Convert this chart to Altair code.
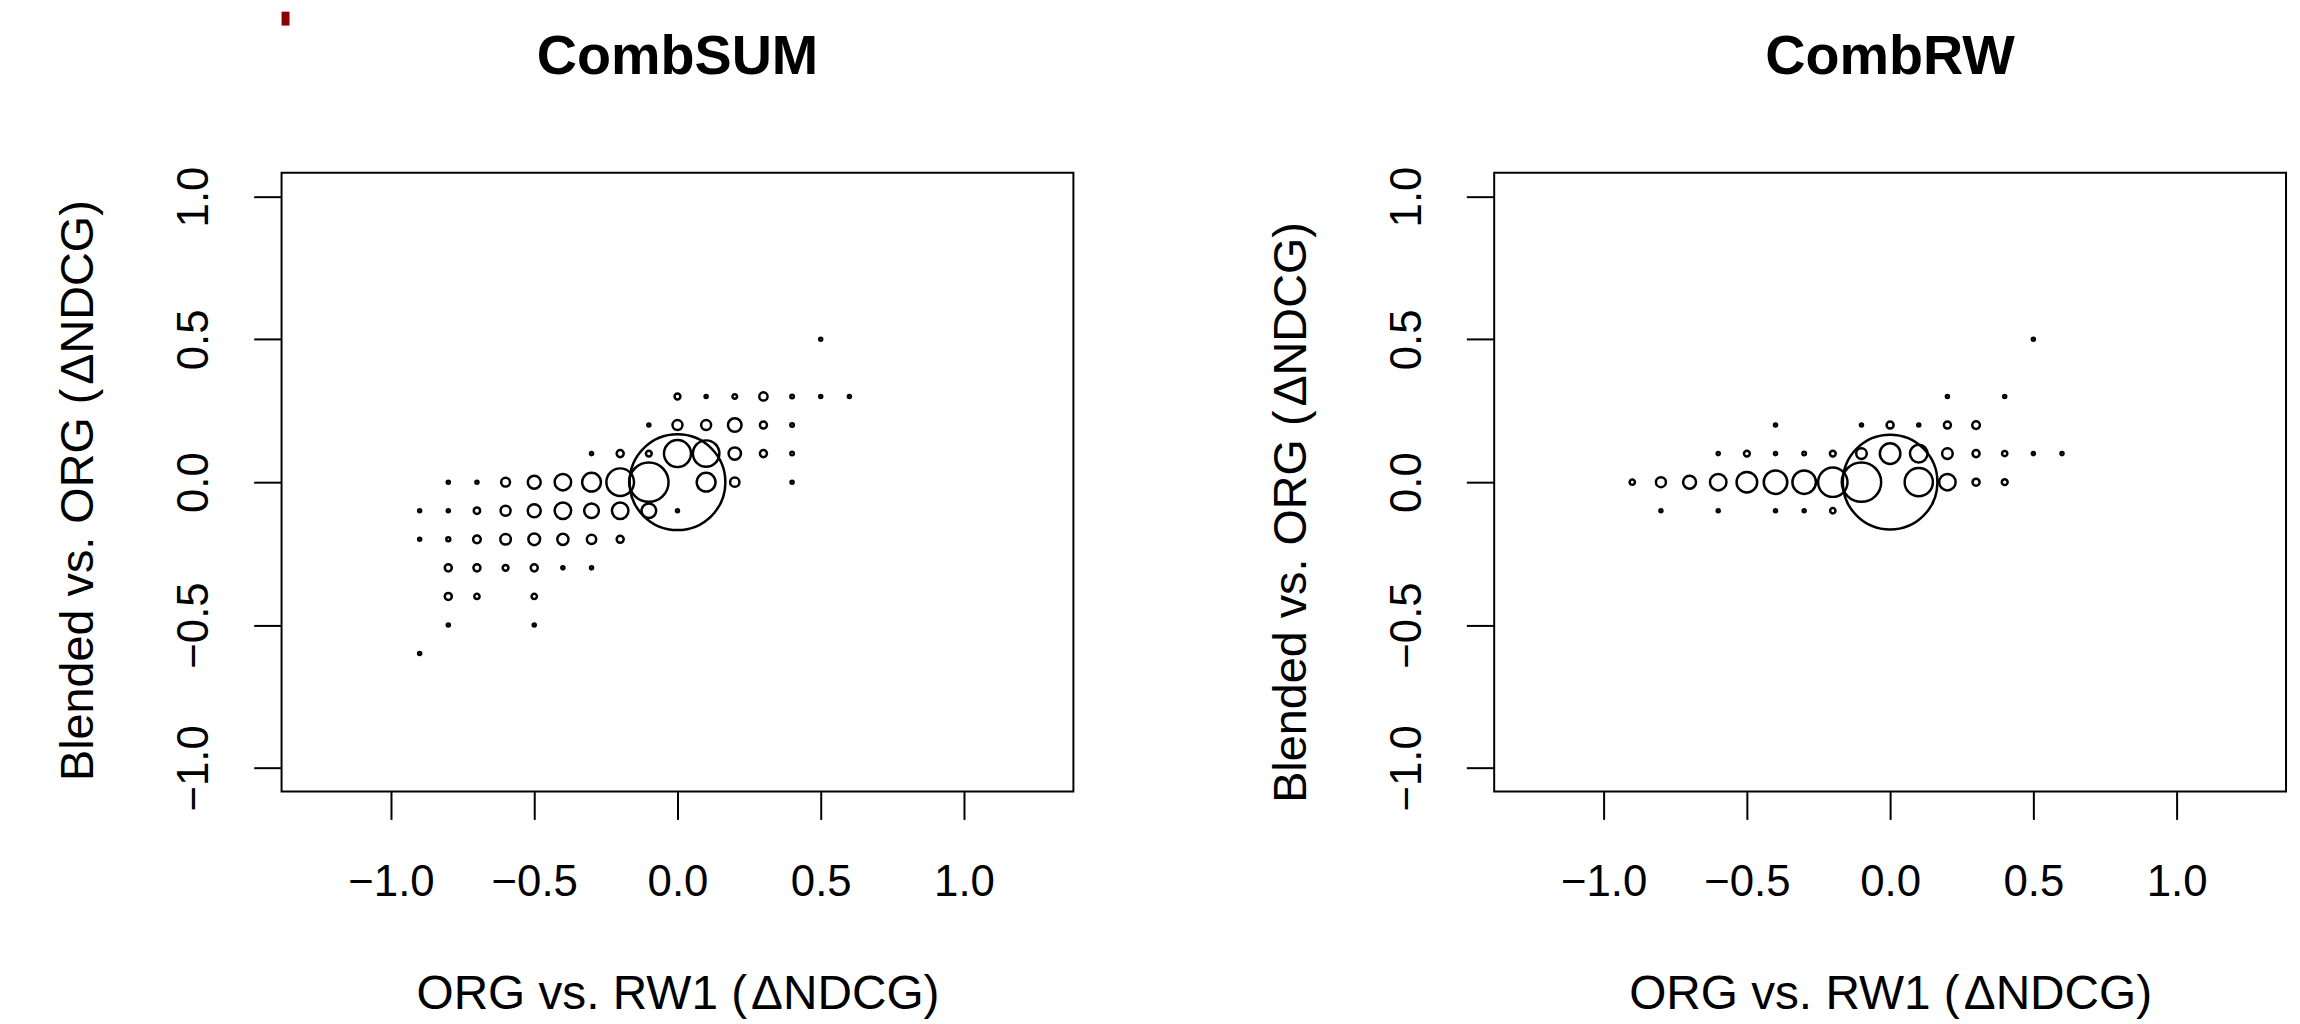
import math
import altair as alt
import pandas as pd

# ---- data: CombSUM panel (x = ORG vs RW1, y = Blended vs ORG, n = number of queries)
sum_x = [0.5,
         0.0, 0.1, 0.2, 0.3, 0.4, 0.5, 0.6,
         -0.1, 0.0, 0.1, 0.2, 0.3, 0.4,
         -0.3, -0.2, -0.1, 0.0, 0.1, 0.2, 0.3, 0.4,
         -0.8, -0.7, -0.6, -0.5, -0.4, -0.3, -0.2, -0.1, 0.0, 0.1, 0.2, 0.4,
         -0.9, -0.8, -0.7, -0.6, -0.5, -0.4, -0.3, -0.2, -0.1, 0.0,
         -0.9, -0.8, -0.7, -0.6, -0.5, -0.4, -0.3, -0.2,
         -0.8, -0.7, -0.6, -0.5, -0.4, -0.3,
         -0.8, -0.7, -0.5,
         -0.8, -0.5,
         -0.9]
sum_y = [0.5,
         0.3, 0.3, 0.3, 0.3, 0.3, 0.3, 0.3,
         0.2, 0.2, 0.2, 0.2, 0.2, 0.2,
         0.1, 0.1, 0.1, 0.1, 0.1, 0.1, 0.1, 0.1,
         0.0, 0.0, 0.0, 0.0, 0.0, 0.0, 0.0, 0.0, 0.0, 0.0, 0.0, 0.0,
         -0.1, -0.1, -0.1, -0.1, -0.1, -0.1, -0.1, -0.1, -0.1, -0.1,
         -0.2, -0.2, -0.2, -0.2, -0.2, -0.2, -0.2, -0.2,
         -0.3, -0.3, -0.3, -0.3, -0.3, -0.3,
         -0.4, -0.4, -0.4,
         -0.5, -0.5,
         -0.6]
sum_n = [3,
         11, 3, 7, 22, 4, 3, 3,
         3, 32, 32, 59, 16, 4,
         3, 16, 11, 235, 225, 49, 16, 4,
         3, 3, 25, 54, 87, 114, 245, 499, 2952, 114, 28, 3,
         3, 3, 13, 32, 54, 87, 69, 87, 69, 3,
         3, 5, 19, 36, 44, 40, 28, 16,
         16, 16, 11, 16, 3, 3,
         16, 9, 9,
         3, 3,
         3]

# ---- data: CombRW panel
rw_x = [0.5,
        0.2, 0.4,
        -0.4, -0.1, 0.0, 0.1, 0.2, 0.3,
        -0.6, -0.5, -0.4, -0.3, -0.2, -0.1, 0.0, 0.1, 0.2, 0.3, 0.4, 0.5, 0.6,
        -0.9, -0.8, -0.7, -0.6, -0.5, -0.4, -0.3, -0.2, -0.1, 0.0, 0.1, 0.2, 0.3, 0.4,
        -0.8, -0.6, -0.4, -0.3, -0.2]
rw_y = [0.5,
        0.3, 0.3,
        0.2, 0.2, 0.2, 0.2, 0.2, 0.2,
        0.1, 0.1, 0.1, 0.1, 0.1, 0.1, 0.1, 0.1, 0.1, 0.1, 0.1, 0.1, 0.1,
        0.0, 0.0, 0.0, 0.0, 0.0, 0.0, 0.0, 0.0, 0.0, 0.0, 0.0, 0.0, 0.0, 0.0,
        -0.1, -0.1, -0.1, -0.1, -0.1]
rw_n = [3,
        3, 3,
        3, 3, 16, 3, 16, 19,
        3, 11, 3, 4, 11, 36, 136, 100, 36, 16, 9, 3, 3,
        9, 32, 54, 87, 136, 178, 178, 278, 499, 2880, 256, 87, 16, 11,
        3, 3, 3, 3, 9]

panel_titles = ["CombSUM", "CombRW"]
x_title = "ORG vs. RW1 (\u200a\u0394NDCG)"
y_title = "Blended vs. ORG (\u200a\u0394NDCG)"
tick_values = [-1.0, -0.5, 0.0, 0.5, 1.0]

FONT = "Liberation Sans"
W, H = 796, 622
AX = 1.382
AY = 1.083


def panel(xs, ys, ns, name, ytitle_shift, mark_corner=False):
    df = pd.DataFrame({"x": xs, "y": ys, "n": ns})
    pts = alt.Chart(df).mark_point(
        shape="circle", filled=False, color="black", strokeWidth=2.5, opacity=1
    ).encode(
        x=alt.X("x:Q",
                scale=alt.Scale(domain=[-AX, AX], nice=False, zero=False),
                axis=alt.Axis(values=tick_values, format=".1f", title=x_title,
                              grid=False, domain=False, tickSize=28, tickWidth=2,
                              tickColor="black", labelFont=FONT, labelFontSize=44,
                              labelColor="black", labelBaseline="middle",
                              labelPadding=64, labelFlush=False, labelOverlap=False,
                              titleFont=FONT, titleFontSize=48, titleFontWeight="normal",
                              titleColor="black", titleBaseline="middle",
                              titleAlign="center", titleX=W / 2, titleY=204)),
        y=alt.Y("y:Q",
                scale=alt.Scale(domain=[-AY, AY], nice=False, zero=False),
                axis=alt.Axis(values=tick_values, format=".1f", title=y_title,
                              grid=False, domain=False, tickSize=28, tickWidth=2,
                              tickColor="black", labelFont=FONT, labelFontSize=44,
                              labelColor="black", labelAngle=270, labelAlign="center",
                              labelBaseline="middle", labelPadding=59, labelFlush=False,
                              labelOverlap=False,
                              titleFont=FONT, titleFontSize=47, titleFontWeight="normal",
                              titleColor="black", titleAngle=270, titleBaseline="middle",
                              titleAlign="center", titleX=-204,
                              titleY=H / 2 + ytitle_shift)),
        size=alt.Size("n:Q",
                      scale=alt.Scale(type="linear", domain=[0, 3000],
                                      range=[0, 3000 * math.pi]),
                      legend=None),
    )
    ttl = alt.Chart(pd.DataFrame({"t": [name]})).mark_text(
        font=FONT, fontSize=56, fontWeight="bold", baseline="middle",
        align="center", color="black"
    ).encode(text="t:N", x=alt.value(W / 2), y=alt.value(-116))
    layers = [pts, ttl]
    if mark_corner:
        bar = alt.Chart(pd.DataFrame({"k": [0]})).mark_rect(
            color="#8b0000"
        ).encode(x=alt.value(0), x2=alt.value(8), y=alt.value(-162), y2=alt.value(-148))
        layers.append(bar)
    return alt.layer(*layers).properties(width=W, height=H)


left = panel(sum_x, sum_y, sum_n, panel_titles[0], 8, mark_corner=True)
right = panel(rw_x, rw_y, rw_n, panel_titles[1], 30)

chart = alt.hconcat(left, right, spacing=193).properties(
    padding={"left": 46, "top": 0, "right": 5, "bottom": 0},
    background="white",
).configure_view(stroke="black", strokeWidth=2)

chart.save("out.html", embed_options={"renderer": "svg", "actions": False})
